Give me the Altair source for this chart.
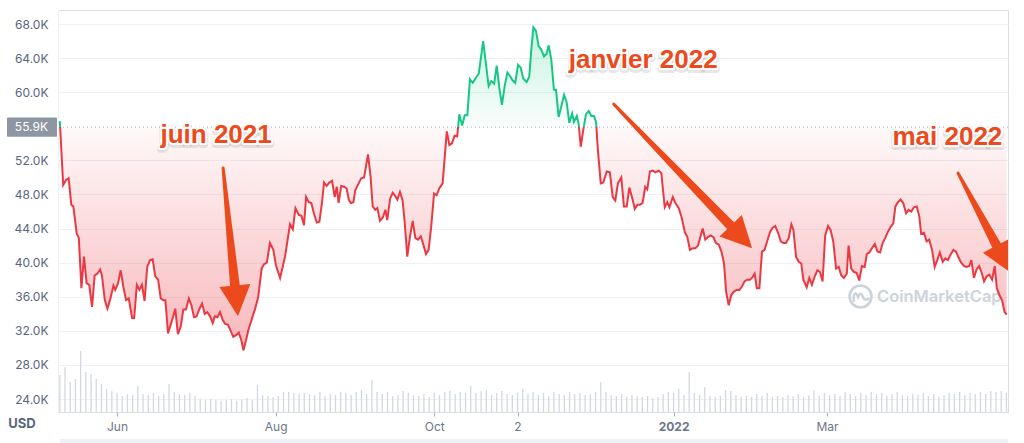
import math
import altair as alt
import pandas as pd

# ---------------- data ----------------
# day offset from 10 May 2021, BTC price in thousands of USD
days = [0, 1.3, 2.4, 3.4, 4.4, 5.2, 6.5, 7.3, 8.3, 9.3, 10.3, 11.3, 12.4, 13.4, 14.4, 15.5, 16.2, 17.3, 18.3, 19.3,
        20.6, 21.3, 22.4, 23.4, 24.4, 25.5, 26.5, 27.8, 28.6, 29.6, 30.6, 31.6, 32.6, 33.6, 34.7, 35.7, 36.7, 37.8, 38.8, 39.8,
        40.6, 41.6, 42.6, 43.6, 44.4, 45.4, 46.5, 47.5, 48.5, 49.6, 50.6, 51.6, 52.6, 53.6, 54.7, 55.7, 56.7, 57.8, 58.8, 59.6,
        60.6, 61.6, 62.6, 63.6, 64.7, 65.7, 66.7, 67.8, 68.8, 69.8, 70.6, 71.6, 72.5, 75.1, 76.3, 77.6, 78.5, 79.6, 80.8, 82.1,
        83.1, 84.7, 86.6, 87.5, 88.5, 89.6, 90.6, 91.9, 92.9, 93.9, 94.7, 95.7, 96.7, 97.7, 98.8, 99.8, 100.8, 101.6, 102.6, 103.6,
        104.7, 105.7, 106.5, 107.2, 108.2, 109.3, 110.3, 111.1, 111.9, 112.9, 113.6, 114.9, 115.9, 117.0, 118.5, 119.5, 120.3, 121.3, 122.1, 123.1,
        124.2, 125.2, 125.9, 127.0, 128.0, 129.0, 129.8, 130.8, 131.8, 132.6, 133.6, 134.7, 135.7, 136.7, 137.7, 138.8, 139.8, 140.8, 141.8, 142.8,
        143.9, 144.9, 145.9, 147.2, 148.8, 149.8, 150.8, 151.8, 152.8, 153.6, 154.7, 155.7, 156.7, 157.7, 158.8, 159.8, 161.1, 162.8, 163.9, 164.9,
        165.9, 167.0, 168.0, 169.0, 170.0, 171.1, 172.1, 173.1, 174.1, 175.1, 176.2, 177.2, 178.2, 179.5, 180.5, 181.3, 182.1, 183.1, 184.1, 185.1,
        186.2, 187.2, 188.0, 189.0, 190.0, 190.8, 191.8, 192.8, 193.9, 194.9, 195.9, 197.0, 197.7, 198.8, 199.5, 200.3, 201.3, 202.3, 203.4, 204.4,
        205.4, 206.2, 206.9, 208.0, 209.0, 210.3, 211.5, 212.6, 213.6, 214.6, 215.9, 216.9, 218.0, 219.0, 220.0, 221.1, 222.1, 223.1, 224.1, 225.1,
        225.9, 226.9, 228.0, 229.0, 230.3, 231.3, 232.6, 233.6, 234.4, 235.7, 236.7, 238.0, 239.2, 240.3, 241.3, 242.3, 243.4, 244.4, 245.4, 246.2,
        247.2, 248.2, 249.2, 250.3, 251.3, 252.3, 253.4, 254.4, 255.4, 256.2, 257.2, 258.2, 259.2, 260.3, 261.3, 262.3, 263.3, 264.3, 265.4, 266.4,
        267.2, 268.0, 269.0, 270.0, 271.0, 272.0, 273.1, 274.1, 275.1, 276.2, 277.2, 278.2, 279.2, 280.3, 281.3, 282.1, 283.1, 284.1, 285.1, 285.9,
        287.2, 288.2, 289.2, 290.3, 291.3, 292.3, 293.3, 294.3, 295.4, 296.4, 297.4, 298.5, 299.5, 300.5, 301.5, 302.6, 303.3, 304.3, 305.4, 306.4,
        307.4, 308.4, 309.5, 310.3, 311.3, 312.3, 313.4, 314.4, 315.4, 316.4, 317.4, 318.4, 319.5, 320.5, 321.3, 322.3, 323.3, 324.3, 325.4, 326.4,
        327.4, 328.4, 329.5, 330.5, 331.2, 332.3, 333.3, 334.3, 335.4, 336.4, 337.4, 338.4, 339.5, 340.5, 341.5, 342.6, 343.6, 344.6, 345.6, 346.6,
        347.7, 348.7, 349.7, 350.5, 351.5, 352.5, 353.5, 354.6, 355.4, 356.4, 357.4, 358.5, 359.5, 360.3, 361.3, 362.3, 363.3, 364.1]

price_k = [56.6, 49.1, 49.7, 49.9, 46.8, 46.6, 43.4, 42.9, 37.0, 40.7, 37.6, 37.4, 34.8, 38.5, 38.7, 39.2, 38.5, 35.6, 34.6, 35.6,
           37.3, 36.8, 37.6, 39.1, 37.2, 35.6, 35.8, 33.5, 33.5, 37.4, 36.8, 37.4, 35.5, 39.5, 40.3, 40.4, 38.4, 38.0, 35.8, 35.6,
           35.6, 31.7, 32.7, 33.7, 34.6, 31.6, 32.5, 34.5, 34.5, 35.8, 35.0, 33.6, 33.7, 34.5, 35.2, 34.0, 34.2, 33.7, 32.9, 33.7,
           33.6, 34.2, 33.3, 32.8, 32.7, 32.0, 31.3, 31.5, 31.8, 30.9, 29.7, 30.9, 32.1, 34.6, 36.0, 39.3, 39.8, 40.0, 42.3, 41.5,
           39.7, 38.2, 40.7, 42.5, 44.5, 43.9, 46.4, 45.6, 45.5, 44.4, 47.7, 47.1, 47.0, 45.8, 44.7, 44.8, 47.0, 49.4, 49.0, 49.4,
           49.6, 47.7, 48.9, 47.0, 49.0, 48.9, 48.7, 47.4, 47.0, 47.1, 48.5, 49.3, 49.9, 50.0, 52.7, 50.1, 46.6, 46.2, 46.4, 44.9,
           45.3, 46.2, 45.0, 47.5, 48.2, 47.8, 47.4, 48.3, 47.3, 44.8, 40.7, 43.2, 44.9, 42.9, 42.7, 43.1, 42.1, 41.0, 41.5, 44.2,
           48.1, 47.9, 48.7, 49.3, 55.4, 53.8, 54.0, 54.9, 54.8, 57.4, 56.1, 57.3, 57.3, 61.5, 61.1, 61.6, 62.2, 66.0, 63.2, 60.7,
           61.3, 61.0, 63.1, 60.5, 58.5, 60.8, 62.3, 61.9, 61.4, 61.1, 63.2, 62.9, 61.6, 61.2, 61.8, 65.0, 67.6, 67.2, 65.4, 65.0,
           64.2, 64.5, 65.5, 63.8, 60.3, 60.3, 57.1, 58.3, 59.7, 58.8, 56.4, 57.5, 56.5, 57.2, 56.3, 53.6, 55.6, 57.4, 57.8, 57.2,
           57.2, 56.5, 53.2, 49.3, 49.4, 50.7, 50.6, 47.7, 47.3, 49.3, 50.0, 46.6, 46.6, 48.8, 47.7, 46.3, 46.8, 46.8, 47.0, 48.9,
           48.6, 50.7, 50.8, 50.6, 50.8, 50.5, 46.5, 47.1, 46.5, 47.7, 47.0, 46.4, 45.2, 43.6, 43.0, 41.5, 41.7, 41.7, 42.0, 42.9,
           44.0, 42.7, 43.0, 43.2, 43.0, 42.3, 42.1, 41.3, 39.9, 36.6, 35.0, 36.2, 36.6, 36.8, 36.8, 37.2, 37.8, 38.0, 38.0, 38.3,
           38.7, 37.0, 37.0, 41.3, 41.5, 42.5, 43.6, 44.1, 44.3, 43.5, 42.5, 42.3, 42.3, 42.9, 44.5, 43.8, 40.7, 40.1, 39.9, 38.0,
           37.1, 38.2, 37.4, 38.4, 39.1, 38.9, 37.8, 43.2, 44.3, 43.8, 42.5, 39.3, 39.5, 38.5, 38.2, 38.7, 42.0, 39.3, 38.9, 38.8,
           37.9, 39.6, 39.5, 41.0, 41.2, 41.7, 42.2, 41.3, 41.2, 42.3, 42.9, 43.6, 44.2, 44.6, 46.6, 47.1, 47.4, 47.0, 45.8, 46.2,
           46.0, 46.5, 46.6, 45.4, 43.4, 43.5, 42.5, 42.7, 41.5, 39.5, 40.3, 41.2, 40.1, 40.5, 40.3, 41.0, 41.5, 41.3, 40.6, 40.0,
           39.6, 39.5, 39.6, 40.3, 38.2, 39.2, 39.6, 38.7, 37.8, 38.4, 38.6, 38.0, 39.6, 37.0, 36.2, 35.6, 34.2, 33.9]

# trading volume (billions USD), one bar every second day from day 0
volume_b = [74, 90, 60, 66, 122, 80, 76, 66, 56, 46, 42, 38, 32, 36, 34, 52, 36, 34, 38, 32,
            36, 56, 40, 36, 34, 38, 32, 26, 24, 26, 24, 22, 24, 26, 22, 24, 28, 24, 54, 34,
            32, 30, 32, 40, 40, 38, 36, 38, 36, 34, 40, 32, 36, 34, 40, 38, 34, 40, 44, 36,
            64, 40, 36, 40, 32, 34, 42, 38, 34, 32, 36, 30, 38, 34, 40, 42, 36, 40, 38, 52,
            38, 42, 44, 34, 38, 42, 36, 34, 38, 46, 36, 40, 34, 38, 32, 40, 36, 34, 40, 36,
            38, 34, 36, 40, 60, 40, 34, 32, 36, 30, 34, 32, 30, 32, 28, 30, 36, 40, 38, 46,
            34, 80, 38, 34, 50, 32, 30, 32, 44, 42, 34, 30, 32, 30, 36, 32, 38, 30, 32, 30,
            34, 32, 36, 30, 34, 44, 32, 38, 34, 36, 32, 40, 36, 32, 38, 34, 40, 36, 38, 32,
            36, 40, 34, 32, 36, 34, 38, 32, 36, 30, 34, 38, 36, 40, 34, 38, 36, 40, 36, 42,
            40, 42, 38]

baseline_k = 55.9
y_tick_values = [24, 28, 32, 36, 40, 44, 48, 52, 60, 64, 68]
x_tick_days = [22, 83, 144, 176, 236, 295]
x_tick_labels = ["Jun", "Aug", "Oct", "2", "2022", "Mar"]

ann_labels = ["juin 2021", "janvier 2022", "mai 2022"]
ann_days = [60.1, 224.3, 341.3]
ann_vals = [54.0, 62.8, 53.8]

arrow_start_day = [62.8, 213.0, 345.4]
arrow_start_val = [51.1, 58.6, 50.5]
arrow_tip_day = [68.5, 266.2, 365.8]
arrow_tip_val = [33.7, 41.7, 38.8]

assert len(days) == len(price_k)

# ---------------- layout / style ----------------
W, H = 950, 402
X_DOMAIN = [-0.7, 364.6]
Y_DOMAIN = [22.475, 69.643]
RED = "#ea3943"
GREEN = "#16c784"
ORANGE = "#ec4a1c"
GREY_TXT = "#58667e"

px_day = W / (X_DOMAIN[1] - X_DOMAIN[0])
px_k = H / (Y_DOMAIN[1] - Y_DOMAIN[0])

label_expr = " : ".join(f"datum.value == {d} ? '{l}'" for d, l in zip(x_tick_days, x_tick_labels)) + " : ''"
bold_day = x_tick_days[x_tick_labels.index("2022")]

x_axis = alt.Axis(values=x_tick_days, labelExpr=label_expr, grid=False, domain=False,
                  tickSize=4, tickColor="#a6aebd", labelPadding=5, labelFont="Inter",
                  labelFontSize=12, labelColor="#6b768a", labelOverlap=False, labelFlush=False,
                  labelFontWeight={"condition": {"test": f"datum.value == {bold_day}", "value": "bold"},
                                   "value": "normal"},
                  title=None)
y_axis = alt.Axis(values=y_tick_values, labelExpr="format(datum.value, '.1f') + 'K'",
                  grid=True, gridColor="#eff2f5", domain=True, domainColor="#eef1f5",
                  ticks=False, labelPadding=10, labelFont="Inter", labelFontSize=12,
                  labelColor=GREY_TXT, title=None)


def X(field="day"):
    return alt.X(f"{field}:Q", scale=alt.Scale(domain=X_DOMAIN, nice=False, zero=False), axis=x_axis)


def Y(field):
    return alt.Y(f"{field}:Q", scale=alt.Scale(domain=Y_DOMAIN, nice=False, zero=False), axis=y_axis)


price_df = pd.DataFrame({"day": days, "price": price_k})
pmax, pmin = max(price_k), min(price_k)
off = (pmax - baseline_k) / (pmax - pmin)

line_grad = alt.Gradient(gradient="linear", x1=0, x2=0, y1=0, y2=1, stops=[
    alt.GradientStop(color=GREEN, offset=0), alt.GradientStop(color=GREEN, offset=off),
    alt.GradientStop(color=RED, offset=off), alt.GradientStop(color=RED, offset=1)])
fill_grad = alt.Gradient(gradient="linear", x1=0, x2=0, y1=0, y2=1, stops=[
    alt.GradientStop(color="rgba(22,199,132,0.24)", offset=0),
    alt.GradientStop(color="rgba(22,199,132,0.02)", offset=off),
    alt.GradientStop(color="rgba(234,57,67,0.03)", offset=off),
    alt.GradientStop(color="rgba(234,57,67,0.36)", offset=1)])

one = pd.DataFrame({"a": [0]})

# volume
vol_df = pd.DataFrame({"day": [2 * i for i in range(len(volume_b))], "vol": volume_b})
vol = alt.Chart(vol_df).mark_rule(color="#d3d8e0", strokeWidth=1.3).encode(
    x=X(),
    y=alt.Y("vol:Q", scale=alt.Scale(domain=[0, 804], nice=False, zero=True), axis=None),
    y2=alt.datum(0),
)

area = alt.Chart(price_df).mark_area(fill=fill_grad, interpolate="linear").encode(
    x=X(), y=Y("price"), y2=alt.datum(baseline_k))
base_rule = alt.Chart(one).mark_rule(color="#a6b0c3", strokeDash=[1, 3], strokeWidth=1).encode(
    y=alt.datum(baseline_k))
line = alt.Chart(price_df).mark_line(stroke=line_grad, strokeWidth=2, interpolate="linear").encode(
    x=X(), y=Y("price"))

# watermark
wm_ring = alt.Chart(one).mark_point(shape="circle", filled=False, size=480, strokeWidth=2.6,
                                    color="#cdd3dc", opacity=1).encode(
    x=alt.value(802.5), y=alt.value(286.5))
wm_m = alt.Chart(one).mark_point(
    shape="M-0.62,0.5 L-0.62,-0.05 Q-0.45,-0.55 -0.22,0.05 Q0.0,-0.55 0.22,0.05 Q0.4,0.5 0.8,0.15",
    filled=False, size=480, strokeWidth=2.4, color="#cdd3dc", opacity=1).encode(
    x=alt.value(802.5), y=alt.value(286.5))
wm_text = alt.Chart(one).mark_text(text="CoinMarketCap", font="Inter", fontSize=16.5, fontWeight=600,
                                   color="#cdd3dc", align="left", baseline="middle").encode(
    x=alt.value(819), y=alt.value(287))

# gray box with the baseline price
box = alt.Chart(one).mark_rect(color="#8f96a3", cornerRadius=1).encode(
    x=alt.value(-51), x2=alt.value(-1),
    y=alt.datum(baseline_k + 1.12), y2=alt.datum(baseline_k - 1.12))
box_txt = alt.Chart(one).mark_text(text="55.9K", font="Inter", fontSize=12, color="white",
                                   align="right", baseline="middle").encode(
    x=alt.value(-10), y=alt.datum(baseline_k))
usd = alt.Chart(one).mark_text(text="USD", font="Inter", fontSize=13, fontWeight="bold",
                               color=GREY_TXT, align="center", baseline="middle").encode(
    x=alt.value(-36), y=alt.value(414))
band = alt.Chart(one).mark_rect(color="#edf2fa").encode(
    x=alt.value(2), x2=alt.value(950), y=alt.value(429), y2=alt.value(433))

# annotations
ann_df = pd.DataFrame({"day": ann_days, "v": ann_vals, "t": ann_labels})
txt_kw = dict(font="Liberation Sans", fontSize=26, fontWeight="bold", align="center", baseline="alphabetic")
ann_shadow = alt.Chart(ann_df).mark_text(color="rgba(0,0,0,0.10)", stroke="rgba(0,0,0,0.10)",
                                         strokeWidth=6, strokeJoin="round", dy=1.5, **txt_kw).encode(
    x=X(), y=Y("v"), text="t:N")
ann_halo = alt.Chart(ann_df).mark_text(color=ORANGE, stroke="white", strokeWidth=4,
                                       strokeJoin="round", **txt_kw).encode(x=X(), y=Y("v"), text="t:N")
ann_fill = alt.Chart(ann_df).mark_text(color=ORANGE, **txt_kw).encode(x=X(), y=Y("v"), text="t:N")

# arrows: tapered shaft (trail) + triangular head
trail_rows, head_rows = [], []
for i in range(len(arrow_tip_day)):
    dx = (arrow_tip_day[i] - arrow_start_day[i]) * px_day
    dy = (arrow_start_val[i] - arrow_tip_val[i]) * px_k
    L = math.hypot(dx, dy)
    ux, uy = dx / L, dy / L
    end_d = arrow_tip_day[i] - 26 * ux / px_day
    end_v = arrow_tip_val[i] + 26 * uy / px_k
    trail_rows.append({"id": i, "o": 0, "day": arrow_start_day[i], "v": arrow_start_val[i], "w": 3})
    trail_rows.append({"id": i, "o": 1, "day": end_d, "v": end_v, "w": 10})
    head_rows.append({"day": arrow_tip_day[i], "v": arrow_tip_val[i],
                      "ang": (-math.degrees(math.atan2(dx, dy))) % 360})
trail_df = pd.DataFrame(trail_rows)
head_df = pd.DataFrame(head_rows)

shaft = alt.Chart(trail_df).mark_trail(color=ORANGE, clip=True).encode(
    x=X(), y=Y("v"), size=alt.Size("w:Q", scale=None, legend=None),
    detail="id:N", order="o:Q")
head = alt.Chart(head_df).mark_point(shape="M0,0 L-1,-2 L1,-2 Z", filled=True, size=961,
                                     color=ORANGE, opacity=1, clip=True).encode(
    x=X(), y=Y("v"), angle=alt.Angle("ang:Q", scale=None))

main = alt.layer(area, base_rule, wm_ring, wm_m, wm_text, line, box, box_txt, usd, band,
                 shaft, head, ann_shadow, ann_halo, ann_fill)

chart = alt.layer(vol, main).resolve_scale(y="independent").properties(
    width=W, height=H,
    padding={"left": 58, "top": 10, "right": 16, "bottom": 31},
    autosize="none",
).configure_view(stroke=None).configure(background="white")

chart.save("out.html", embed_options={"renderer": "svg", "actions": False})
